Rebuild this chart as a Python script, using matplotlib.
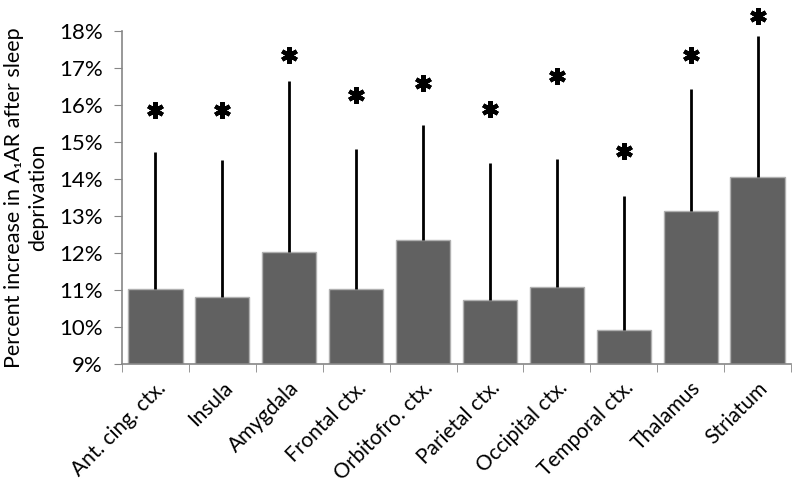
import numpy as np
import matplotlib.pyplot as plt
import matplotlib.ticker as mticker

# Percent increase in A1AR per region
regions = ["Ant. cing. ctx.", "Insula", "Amygdala", "Frontal ctx.", "Orbitofro. ctx.",
           "Parietal ctx.", "Occipital ctx.", "Temporal ctx.", "Thalamus", "Striatum"]
increase = [11.03, 10.80, 12.02, 11.03, 12.35, 10.73, 11.08, 9.91, 13.13, 14.06]
upper_err = [3.71, 3.71, 4.63, 3.78, 3.11, 3.71, 3.45, 3.62, 3.29, 3.81]
star_y = [15.86, 15.86, 17.35, 16.27, 16.6, 15.9, 16.78, 14.76, 17.35, 18.4]

plt.rcParams['font.family'] = ['Lato', 'DejaVu Sans']

fig = plt.figure(figsize=(7.96, 4.84), dpi=100)
ax = fig.add_axes([0.1533, 0.248, 0.8404, 0.688])

x = np.arange(len(regions))
ax.bar(x, [v - 9 for v in increase], bottom=9, width=0.81, color='#616161',
       edgecolor='#b0b0b0', linewidth=1, zorder=2)
ax.errorbar(x, increase, yerr=[np.zeros(len(x)), upper_err], fmt='none',
            ecolor='black', elinewidth=2, capsize=0, zorder=3)
# significance stars
ax.plot(x, star_y, linestyle='none', marker=(6, 2, 0), markersize=12,
        markeredgewidth=3, color='black', clip_on=False, zorder=4)

ax.set_xlim(-0.5, len(regions) - 0.5)
ax.set_ylim(9, 18)
ax.set_yticks(range(9, 19))
ax.yaxis.set_major_formatter(mticker.FuncFormatter(lambda v, p: f'{v:.0f}%'))
ax.set_xticks(x)
ax.set_xticklabels(regions, rotation=45, ha='right', rotation_mode='anchor')
ax.set_xticks(np.arange(-0.5, len(regions)), minor=True)
ax.tick_params(axis='x', which='major', length=0, labelsize=15, pad=10)
ax.tick_params(axis='x', which='minor', length=6, color='#868686')
ax.tick_params(axis='y', length=6, color='#868686', labelsize=16, pad=8)

for s in ['top', 'right']:
    ax.spines[s].set_visible(False)
for s in ['left', 'bottom']:
    ax.spines[s].set_color('#868686')
    ax.spines[s].set_linewidth(1.2)

ax.set_ylabel('Percent increase in A\u2081AR after sleep\ndeprivation', fontsize=15.5,
              linespacing=1.25, labelpad=8)

plt.savefig('out.png', dpi=100)
